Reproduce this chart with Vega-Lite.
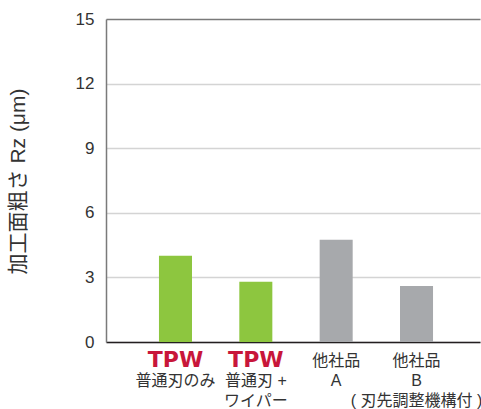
{
  "$schema": "https://vega.github.io/schema/vega-lite/v6.json",
  "width": 374,
  "height": 323,
  "autosize": {"type": "none"},
  "padding": {"left": 106, "top": 19, "right": 1, "bottom": 67},
  "background": "white",
  "config": {
    "view": {"stroke": null},
    "font": "Liberation Sans, Noto Sans CJK JP"
  },
  "data": {
    "values": [
      {"cat": "c1", "value": 4.0, "group": "TPW", "logo": "TPW", "l1": "", "l2": "普通刃のみ", "l3": ""},
      {"cat": "c2", "value": 2.8, "group": "TPW", "logo": "TPW", "l1": "", "l2": "普通刃 +", "l3": "ワイパー"},
      {"cat": "c3", "value": 4.75, "group": "他社品", "logo": "", "l1": "他社品", "l2": "A", "l3": ""},
      {"cat": "c4", "value": 2.6, "group": "他社品", "logo": "", "l1": "他社品", "l2": "B", "l3": "( 刃先調整機構付 )"}
    ]
  },
  "encoding": {
    "x": {
      "field": "cat",
      "type": "nominal",
      "sort": null,
      "scale": {"paddingInner": 0.589, "paddingOuter": 0.622, "align": 0.53},
      "axis": {
        "title": null,
        "labels": false,
        "ticks": false,
        "domainColor": "#231f20",
        "domainWidth": 1.5
      }
    }
  },
  "layer": [
    {
      "mark": {"type": "bar"},
      "encoding": {
        "y": {
          "field": "value",
          "type": "quantitative",
          "scale": {"domain": [0, 15], "nice": false},
          "axis": {
            "values": [0, 3, 6, 9, 12, 15],
            "title": "加工面粗さ Rz (μm)",
            "titleFont": "Liberation Sans, Noto Sans CJK JP",
            "titleFontSize": 21,
            "titleFontWeight": "normal",
            "titleColor": "#333333",
            "titleX": -78,
            "titleY": 162,
            "titleAngle": -90,
            "titleAlign": "center",
            "titleBaseline": "bottom",
            "labelFont": "Liberation Sans",
            "labelFontSize": 17,
            "labelColor": "#333333",
            "labelPadding": 12,
            "ticks": false,
            "domainColor": "#7a7a7a",
            "domainWidth": 1.5,
            "grid": true,
            "gridColor": {"condition": {"test": "datum.value === 15", "value": "#7a7a7a"}, "value": "#d4d4d4"},
            "gridWidth": 1.5
          }
        },
        "color": {
          "field": "group",
          "type": "nominal",
          "scale": {"domain": ["TPW", "他社品"], "range": ["#8dc63f", "#a7a9ac"]},
          "legend": null
        }
      }
    },
    {
      "mark": {"type": "text", "font": "DejaVu Sans", "fontWeight": "bold", "fontSize": 22, "color": "#c8163a", "baseline": "alphabetic", "dy": 25},
      "encoding": {"y": {"datum": 0}, "text": {"field": "logo"}}
    },
    {
      "mark": {"type": "text", "font": "Liberation Sans, Noto Sans CJK JP", "fontSize": 16, "color": "#333333", "baseline": "alphabetic", "dy": 24},
      "encoding": {"y": {"datum": 0}, "text": {"field": "l1"}}
    },
    {
      "mark": {"type": "text", "font": "Liberation Sans, Noto Sans CJK JP", "fontSize": 16, "color": "#333333", "baseline": "alphabetic", "dy": 44},
      "encoding": {"y": {"datum": 0}, "text": {"field": "l2"}}
    },
    {
      "mark": {"type": "text", "font": "Liberation Sans, Noto Sans CJK JP", "fontSize": 16, "color": "#333333", "baseline": "alphabetic", "dy": 64},
      "encoding": {"y": {"datum": 0}, "text": {"field": "l3"}}
    }
  ]
}
